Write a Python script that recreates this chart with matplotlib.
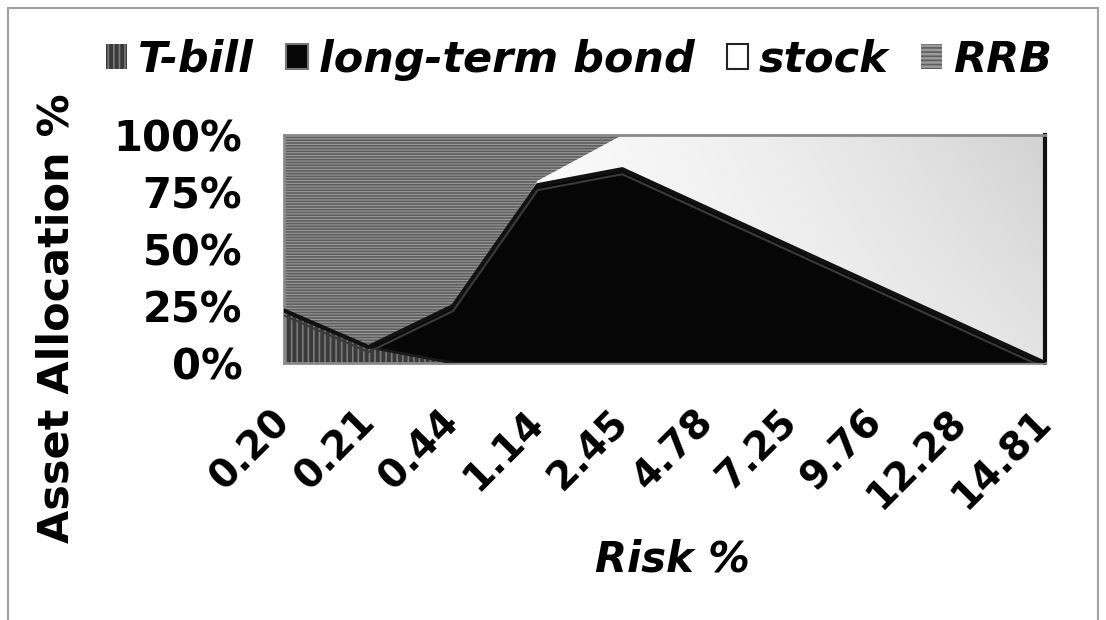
import numpy as np
import matplotlib

matplotlib.use("Agg")
import matplotlib.pyplot as plt
from matplotlib.patches import Rectangle, Patch

# risk levels (x categories) and allocation shares in percent
risk_labels = ["0.20", "0.21", "0.44", "1.14", "2.45", "4.78", "7.25", "9.76", "12.28", "14.81"]
tbill = [23, 7, 0, 0, 0, 0, 0, 0, 0, 0]
bond = [0, 0, 25, 78, 85, 68, 51, 34, 17, 0]
stock = [0, 0, 0, 2, 15, 32, 49, 66, 83, 100]
rrb = [77, 93, 75, 20, 0, 0, 0, 0, 0, 0]

series_names = ["T-bill", "long-term bond", "stock", "RRB"]

plt.rcParams["font.family"] = ["DejaVu Sans"]
plt.rcParams["hatch.linewidth"] = 1.2

fig = plt.figure(figsize=(11.06, 6.2), dpi=100)
ax = fig.add_axes([284 / 1106, 1 - 363 / 620, (1045 - 284) / 1106, (363 - 135) / 620])

x = np.arange(len(risk_labels))
layers = [np.array(tbill, float), np.array(bond, float), np.array(stock, float), np.array(rrb, float)]
tops = np.cumsum(layers, axis=0)
bottoms = np.vstack([np.zeros(len(x)), tops[:-1]])

# T-bill: dark vertical stripes
ax.fill_between(x, bottoms[0], tops[0], facecolor="#3a3a3a", edgecolor="#7a7a7a",
                hatch="|||", linewidth=0, zorder=2)
# long-term bond: black
ax.fill_between(x, bottoms[1], tops[1], facecolor="#060606", linewidth=0, zorder=2)
# stock: white to light grey gradient
stock_fill = ax.fill_between(x, bottoms[2], tops[2], facecolor="none", linewidth=0, zorder=2)
gx = np.linspace(0, 1, 256)
gy = np.linspace(0, 1, 128)
grad = np.clip(gx[None, :] ** 2 * (0.6 + 0.4 * gy[:, None]), 0, 1)
im = ax.imshow(grad, cmap=matplotlib.colors.LinearSegmentedColormap.from_list("g", ["#ffffff", "#d2d2d2"]),
               extent=[0, len(x) - 1, 100, 0], aspect="auto", zorder=2, interpolation="bicubic")
im.set_clip_path(stock_fill.get_paths()[0], stock_fill.get_transform())
# RRB: grey horizontal stripes
ax.fill_between(x, bottoms[3], tops[3], facecolor="#9a9a9a", edgecolor="#5e5e5e",
                hatch="------", linewidth=0, zorder=2)

# boundary lines between layers
ax.plot(x, tops[0], color="#1a1a1a", linewidth=2, zorder=3)
ax.plot(x, tops[1], color="#111111", linewidth=3, zorder=3)
ax.plot(x, tops[1] - 2.2, color="#3a3a3a", linewidth=1.5, zorder=3)

ax.set_xlim(0, len(x) - 1)
ax.set_ylim(0, 100)
ax.set_yticks([0, 25, 50, 75, 100])
ax.set_yticklabels(["0%", "25%", "50%", "75%", "100%"], fontsize=30, fontweight="heavy")
ax.set_xticks(x)
ax.set_xticklabels(risk_labels, fontsize=28, fontweight="heavy", rotation=45,
                   ha="right", va="center", rotation_mode="anchor")
ax.tick_params(axis="y", length=0, pad=30)
ax.tick_params(axis="x", length=0, pad=38)
for side in ["top", "left", "bottom"]:
    ax.spines[side].set_color("#8a8a8a")
    ax.spines[side].set_linewidth(2)
ax.spines["right"].set_color("#111111")
ax.spines["right"].set_linewidth(3)

fig.text(57 / 1106, 1 - 318 / 620, "Asset Allocation %", rotation=90, ha="center", va="center",
         fontsize=31, fontweight="heavy")
fig.text(672 / 1106, 1 - 560 / 620, "Risk %", ha="center", va="center",
         fontsize=30, fontweight="heavy", fontstyle="italic")

handles = [
    Patch(facecolor="#3a3a3a", edgecolor="#7a7a7a", hatch="|||", linewidth=0),
    Patch(facecolor="#060606", edgecolor="#777777", linewidth=1.5),
    Patch(facecolor="#ffffff", edgecolor="#222222", linewidth=1.5),
    Patch(facecolor="#9a9a9a", edgecolor="#5e5e5e", hatch="----", linewidth=0),
]
fig.legend(handles, series_names, loc="center", bbox_to_anchor=(579 / 1106, 1 - 60 / 620), ncol=4,
           frameon=False, handlelength=0.5, handleheight=0.5, handletextpad=0.25, columnspacing=0.75,
           prop={"size": 31, "weight": "heavy", "style": "italic"})

# outer chart border
fig.patches.append(Rectangle((8 / 1106, -0.05), 1090 / 1106, 1.05 - 8 / 620, transform=fig.transFigure,
                             fill=False, edgecolor="#a0a0a0", linewidth=1.5))

fig.savefig("out.png", dpi=100)
plt.close(fig)
